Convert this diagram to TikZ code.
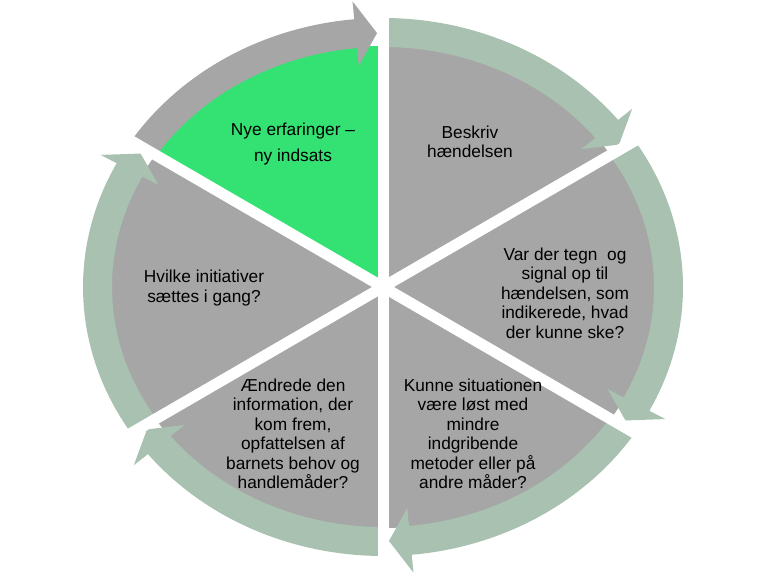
\documentclass[tikz,border=0pt]{standalone}
\usepackage{fontspec}
\setmainfont{Liberation Sans}
\usetikzlibrary{calc}
\definecolor{piegrey}{RGB}{166,166,166}
\definecolor{ringgreen}{RGB}{169,193,176}
\definecolor{freshgreen}{RGB}{52,226,116}
\newcommand{\ringarrow}[4]{%
  \fill[#4] (#1:300 and 269) arc[start angle=#1, end angle=#2, x radius=300, y radius=269]
    -- (#2:318 and 287) -- (#3:285 and 254) -- (#2:253 and 222) -- (#2:271 and 240)
    arc[start angle=#2, end angle=#1, x radius=271, y radius=240] -- cycle;}

\begin{document}
\begin{tikzpicture}[x=1pt, y=1pt,
  lbl/.style={align=center, inner sep=0pt, font=\fontsize{17.3}{19.5}\selectfont}]
\useasboundingbox (0,0) rectangle (768,573);
\begin{scope}[shift={(383,286)}]
\coordinate (c) at (0,0);
\fill[piegrey] (c) ellipse[x radius=272, y radius=241];
\fill[freshgreen] (c) -- (90:272 and 241) arc[start angle=90, end angle=147.1, x radius=272, y radius=241] -- cycle;
\ringarrow{147.1}{95.5}{91.2}{piegrey}
\ringarrow{90}{38.4}{34.1}{ringgreen}
\ringarrow{32.9}{-27.4}{-31.7}{ringgreen}
\ringarrow{-32.9}{-84.5}{-88.8}{ringgreen}
\ringarrow{-90}{-141.6}{-145.9}{ringgreen}
\ringarrow{212.9}{152.6}{148.3}{ringgreen}
\foreach \a in {90,32.9,-32.9,-90,-147.1,147.1}
  \draw[white, line width=11] (c) -- (\a:301 and 270);
\end{scope}
\node[lbl] (nye) at (293,429) {Nye erfaringer –\\[6.5pt]ny indsats};
\node[lbl] (beskriv) at (470,431) {Beskriv\\hændelsen};
\node[lbl] (tegn) at (565,280) {Var der tegn\ \ og\\signal op til\\hændelsen, som\\indikerede, hvad\\der kunne ske?};
\node[lbl] (kunne) at (473,139) {Kunne situationen\\være løst med\\mindre\\indgribende\\metoder eller på\\andre måder?};
\node[lbl] (aendrede) at (293,139) {Ændrede den\\information, der\\kom frem,\\opfattelsen af\\barnets behov og\\handlemåder?};
\node[lbl] (hvilke) at (204,285) {Hvilke initiativer\\sættes i gang?};
\end{tikzpicture}
\end{document}
